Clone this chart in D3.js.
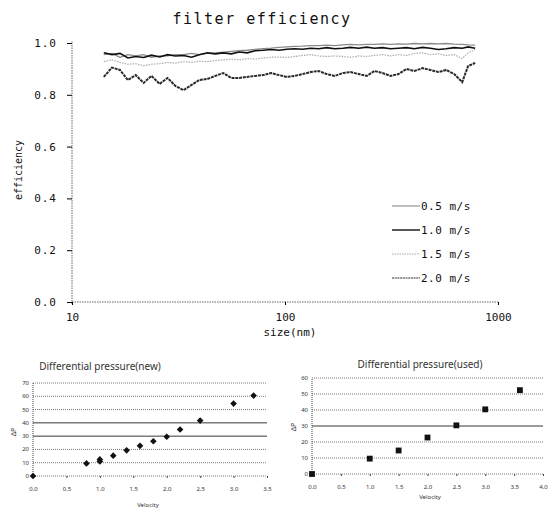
<!DOCTYPE html>
<html>
<head>
<meta charset="utf-8">
<script src="https://cdn.jsdelivr.net/npm/d3@7"></script>
<style>
  body { margin: 0; background: #fff; }
  svg { display: block; }
  .mono { font-family: "DejaVu Sans Mono", "Liberation Mono", monospace; fill: #111; }
  .small { font-family: "Noto Sans", "DejaVu Sans", sans-serif; fill: #333; }
</style>
</head>
<body>
<svg width="555" height="512"></svg>
<script>
// ---- filter efficiency (particle size in nm) ----
const sizes = [14.1, 15.4, 16.8, 18.3, 19.9, 21.7, 23.6, 25.8, 28.1, 30.6, 33.4, 36.4, 39.6, 43.2,
  47.1, 51.3, 55.9, 61.0, 66.4, 72.4, 78.9, 86.0, 93.8, 102, 111, 121, 132, 144, 157, 171, 187,
  203, 222, 242, 263, 287, 313, 341, 372, 405, 442, 481, 525, 571, 623, 679, 724, 781];

const eff05 = [0.955, 0.96, 0.945, 0.955, 0.95, 0.955, 0.945, 0.95, 0.95, 0.955, 0.955, 0.96, 0.955, 0.96,
  0.962, 0.965, 0.968, 0.97, 0.972, 0.975, 0.978, 0.98, 0.983, 0.985, 0.987, 0.988, 0.99, 0.99, 0.992,
  0.99, 0.993, 0.995, 0.993, 0.995, 0.995, 0.997, 0.995, 0.997, 0.996, 0.998, 0.997, 0.998, 0.997,
  0.998, 0.996, 0.995, 0.993, 0.992];
const eff10 = [0.962, 0.955, 0.96, 0.942, 0.948, 0.944, 0.953, 0.946, 0.955, 0.95, 0.952, 0.945, 0.955,
  0.962, 0.958, 0.962, 0.958, 0.965, 0.962, 0.97, 0.972, 0.975, 0.972, 0.976, 0.978, 0.976, 0.98,
  0.978, 0.982, 0.978, 0.98, 0.983, 0.98, 0.984, 0.98, 0.982, 0.978, 0.98, 0.982, 0.978, 0.983,
  0.98, 0.975, 0.978, 0.982, 0.98, 0.985, 0.98];
const eff15 = [0.928, 0.935, 0.925, 0.918, 0.92, 0.912, 0.918, 0.92, 0.925, 0.922, 0.928, 0.925, 0.93,
  0.928, 0.932, 0.935, 0.938, 0.935, 0.94, 0.938, 0.942, 0.945, 0.946, 0.944, 0.948, 0.952, 0.955,
  0.95, 0.948, 0.95, 0.948, 0.945, 0.95, 0.948, 0.952, 0.955, 0.95, 0.955, 0.952, 0.96, 0.962, 0.955,
  0.958, 0.952, 0.955, 0.94, 0.962, 0.975];
const eff20 = [0.869, 0.905, 0.896, 0.857, 0.876, 0.846, 0.873, 0.842, 0.865, 0.834, 0.818, 0.838, 0.857,
  0.861, 0.873, 0.884, 0.865, 0.865, 0.869, 0.873, 0.876, 0.884, 0.876, 0.869, 0.873, 0.88, 0.888,
  0.892, 0.88, 0.873, 0.884, 0.888, 0.88, 0.873, 0.892, 0.884, 0.873, 0.88, 0.9, 0.892, 0.903,
  0.896, 0.888, 0.896, 0.88, 0.849, 0.911, 0.923];

const seriesNames = ["0.5 m/s", "1.0 m/s", "1.5 m/s", "2.0 m/s"];
const yTicksMain = [0, 0.2, 0.4, 0.6, 0.8, 1.0];
const xTicksMain = [10, 100, 1000];

// ---- differential pressure ----
const velNew = [0.0, 0.8, 1.0, 1.0, 1.2, 1.4, 1.6, 1.8, 2.0, 2.2, 2.5, 3.0, 3.3];
const dpNew  = [0, 9.5, 11, 12.5, 15.3, 19.3, 22.7, 26.2, 29.5, 35, 41.7, 54.5, 60.5];
const velUsed = [0.0, 1.0, 1.5, 2.0, 2.5, 3.0, 3.6];
const dpUsed  = [0, 9.6, 14.7, 22.8, 30.4, 40.4, 52.4];

const svg = d3.select("svg");

// main chart
const x = d3.scaleLog().domain([10, 1000]).range([72, 498]);
const y = d3.scaleLinear().domain([0, 1]).range([302, 43]);

svg.append("text").attr("class", "mono")
  .attr("x", 262).attr("y", 24).attr("text-anchor", "middle")
  .style("font-size", "15px").style("letter-spacing", "1.5px")
  .text("filter efficiency");

// axes lines (dotted like the scan)
svg.append("line").attr("x1", x(10)).attr("x2", x(1000)).attr("y1", y(0)).attr("y2", y(0))
  .attr("stroke", "#666").attr("stroke-dasharray", "1.5,1");
svg.append("line").attr("x1", x(10)).attr("x2", x(10)).attr("y1", y(0) + 2).attr("y2", y(1) - 2)
  .attr("stroke", "#666").attr("stroke-dasharray", "1.5,1");

const yAx = svg.append("g").attr("transform", `translate(${x(10)},0)`)
  .call(d3.axisLeft(y).tickValues(yTicksMain).tickFormat(d3.format(".1f")).tickSize(5).tickPadding(10));
yAx.select(".domain").remove();
yAx.selectAll("text").attr("class", "mono").style("font-size", "11px").style("letter-spacing", "1px");

const xAx = svg.append("g").attr("transform", `translate(0,${y(0)})`)
  .call(d3.axisBottom(x).tickValues(xTicksMain).tickFormat(d3.format("d")).tickSize(3).tickPadding(8));
xAx.select(".domain").remove();
xAx.selectAll("text").attr("class", "mono").style("font-size", "11px");

svg.append("text").attr("class", "mono")
  .attr("transform", "translate(22,170) rotate(-90)").attr("text-anchor", "middle")
  .style("font-size", "10px").text("efficiency");
svg.append("text").attr("class", "mono")
  .attr("x", 290).attr("y", 336).attr("text-anchor", "middle")
  .style("font-size", "11px").text("size(nm)");

const styles = [
  { stroke: "#8a8a8a", w: 1.3, dash: null },
  { stroke: "#111", w: 1.6, dash: null },
  { stroke: "#aaa", w: 1.2, dash: "1.5,1.2" },
  { stroke: "#2a2a2a", w: 2, dash: "3,0.8" }
];
const allSeries = [eff05, eff10, eff15, eff20];
const line = d3.line().x((d, i) => x(sizes[i])).y(d => y(d)).curve(d3.curveLinear);

allSeries.forEach((s, k) => {
  svg.append("path").datum(s).attr("d", line).attr("fill", "none")
    .attr("stroke", styles[k].stroke).attr("stroke-width", styles[k].w)
    .attr("stroke-dasharray", styles[k].dash);
});

// legend
const leg = svg.append("g");
seriesNames.forEach((n, k) => {
  const ly = 206 + k * 24;
  leg.append("line").attr("x1", 392).attr("x2", 420).attr("y1", ly).attr("y2", ly)
    .attr("stroke", styles[k].stroke).attr("stroke-width", k === 1 ? 1.4 : 1.1)
    .attr("stroke-dasharray", k === 2 ? "1.5,1" : (k === 3 ? "2,0.7" : null));
  leg.append("text").attr("class", "mono").attr("x", 421).attr("y", ly + 4)
    .style("font-size", "11px").style("letter-spacing", "0.5px").text(n);
});

// small charts
function smallChart(opts) {
  const g = svg.append("g");
  const sx = d3.scaleLinear().domain(opts.xd).range(opts.xr);
  const sy = d3.scaleLinear().domain(opts.yd).range(opts.yr);

  g.append("text").attr("class", "small").attr("x", opts.titleX).attr("y", opts.titleY)
    .attr("text-anchor", "middle").style("font-size", "10px").text(opts.title);

  opts.yTicks.forEach(t => {
    g.append("line").attr("x1", sx(opts.xd[0])).attr("x2", sx(opts.xd[1]))
      .attr("y1", sy(t)).attr("y2", sy(t))
      .attr("stroke", opts.solid.includes(t) ? "#222" : "#555")
      .attr("stroke-width", opts.solid.includes(t) ? 0.9 : 0.8)
      .attr("stroke-dasharray", opts.solid.includes(t) ? null : "1,1");
    g.append("text").attr("class", "small").attr("x", sx(opts.xd[0]) - 4).attr("y", sy(t) + 2)
      .attr("text-anchor", "end").style("font-size", "6px").text(t);
  });
  g.append("line").attr("x1", sx(opts.xd[0])).attr("x2", sx(opts.xd[0]))
    .attr("y1", sy(opts.yd[0])).attr("y2", sy(opts.yd[1]))
    .attr("stroke", "#444").attr("stroke-dasharray", "1,1");

  const ax = g.append("g").attr("transform", `translate(0,${sy(0)})`)
    .call(d3.axisBottom(sx).tickValues(opts.xTicks).tickFormat(d3.format(".1f")).tickSize(2).tickPadding(9));
  ax.select(".domain").remove();
  ax.selectAll("line").attr("stroke", "#444");
  ax.selectAll("text").attr("class", "small").style("font-size", "6px");

  g.append("text").attr("class", "small").attr("x", opts.xlX).attr("y", opts.xlY)
    .attr("text-anchor", "middle").style("font-size", "6px").text("Velocity");
  g.append("text").attr("class", "small")
    .attr("transform", `translate(${opts.ylX},${opts.ylY}) rotate(-90)`)
    .attr("text-anchor", "middle").style("font-size", "7px").text("ΔP");

  g.selectAll(".pt").data(opts.vx).enter().append("path")
    .attr("transform", (d, i) => `translate(${sx(d)},${sy(opts.vy[i])}) rotate(${opts.rot})`)
    .attr("d", d3.symbol().type(d3.symbolSquare).size(opts.symSize))
    .attr("fill", "#111");
}

smallChart({
  title: "Differential pressure(new)", titleX: 100, titleY: 370,
  xd: [0, 3.5], xr: [33, 267], yd: [0, 70], yr: [476, 383],
  yTicks: [0, 10, 20, 30, 40, 50, 60, 70], solid: [30, 40],
  xTicks: [0, 0.5, 1, 1.5, 2, 2.5, 3, 3.5],
  xlX: 148, xlY: 507, ylX: 16, ylY: 432,
  vx: velNew, vy: dpNew, rot: 45, symSize: 22
});

smallChart({
  title: "Differential pressure(used)", titleX: 420, titleY: 368,
  xd: [0, 4], xr: [312, 543], yd: [0, 60], yr: [474, 378],
  yTicks: [0, 10, 20, 30, 40, 50, 60], solid: [30],
  xTicks: [0, 0.5, 1, 1.5, 2, 2.5, 3, 3.5, 4],
  xlX: 430, xlY: 499, ylX: 296, ylY: 427,
  vx: velUsed, vy: dpUsed, rot: 0, symSize: 34
});
</script>
</body>
</html>
